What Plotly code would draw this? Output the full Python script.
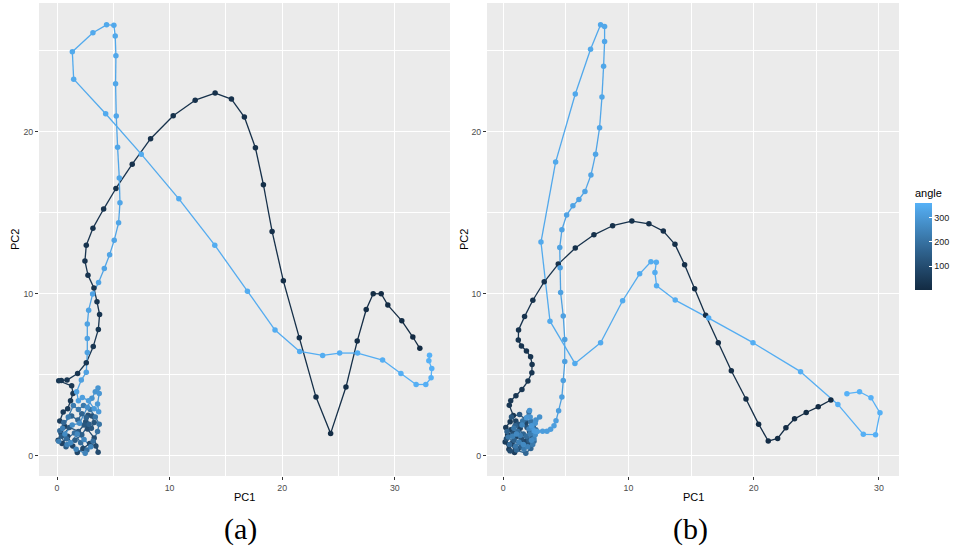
import plotly.graph_objects as go

# ---------------- Panel (a) data ----------------
a_pc1 = [
    # low-angle excursion
    32.22, 31.60, 30.62, 29.38, 28.79, 28.08, 27.46, 26.66, 25.66, 24.30,
    23.00, 21.52, 20.10, 19.10, 18.33, 17.62, 16.64, 15.49, 14.04, 12.27,
    10.32, 8.31, 6.68, 5.23, 4.14, 3.19, 2.60, 2.48, 2.75, 3.28,
    3.55, 3.78, 3.67, 3.22, 2.60, 1.83, 0.89, 0.38, 0.15, 1.30,
    1.42,
    # cluster near origin
    1.20, 0.95, 0.55, 0.25, 0.70, 0.35, 0.10, 0.45, 0.95, 1.40,
    1.80, 2.30, 2.90, 3.45, 3.65, 3.30, 2.70, 2.55, 2.75, 3.10,
    3.30, 3.05, 2.40, 1.90, 1.10, 0.40, 0.80, 1.60, 2.20, 2.85,
    2.60, 2.20, 1.85, 1.30, 0.60, 0.25, 0.85, 1.55, 2.10, 2.65,
    3.20, 3.60, 3.75, 3.40, 2.95, 2.35, 1.90, 1.45, 1.00, 0.50,
    0.15, 0.90, 1.70, 2.50, 3.00, 2.40, 1.80, 1.20, 0.70, 1.35,
    2.00, 2.70, 3.10, 3.40, 3.64, 3.75, 3.60, 3.70, 3.30, 2.80,
    2.25, 1.90,
    # high-angle excursion
    1.74, 2.16, 2.60, 2.69, 2.69, 2.69, 2.81, 3.16, 3.69, 4.20,
    4.67, 5.08, 5.47, 5.59, 5.53, 5.38, 5.26, 5.20, 5.23, 5.17,
    5.05, 4.40, 3.19, 1.36, 1.48, 4.32, 7.48, 10.82, 14.01, 16.91,
    19.36, 21.55, 23.59, 25.10, 26.69, 28.91, 30.54, 31.89, 32.75, 33.22,
    33.28, 33.02, 33.08,
]
a_pc2 = [
    6.63, 7.33, 8.33, 9.30, 10.00, 10.00, 9.03, 7.08, 4.24, 1.38,
    3.62, 7.28, 10.80, 13.85, 16.73, 19.01, 20.91, 22.02, 22.39, 21.95,
    20.99, 19.57, 18.00, 16.50, 15.23, 14.05, 13.00, 12.02, 11.15, 10.35,
    9.51, 8.72, 7.80, 6.75, 5.74, 5.08, 4.67, 4.65, 4.63, 4.32,
    3.85,
    3.40, 2.90, 2.70, 2.15, 1.80, 1.40, 0.95, 0.75, 1.20, 0.60,
    0.20, 0.45, 0.75, 0.60, 0.22, 1.10, 1.65, 2.10, 2.50, 2.45,
    2.05, 1.70, 1.90, 1.50, 1.75, 1.20, 0.55, 0.95, 1.30, 1.95,
    2.35, 2.60, 2.20, 2.45, 2.05, 1.55, 1.05, 1.40, 0.80, 0.35,
    0.90, 1.50, 1.95, 2.40, 2.85, 3.10, 2.85, 3.10, 2.40, 1.70,
    0.90, 0.70, 0.40, 0.15, 0.55, 1.00, 1.35, 0.80, 1.35, 1.90,
    2.00, 3.00, 3.55, 3.95, 4.18, 3.85, 3.20, 2.72, 2.90, 3.40,
    3.60, 3.40,
    3.95, 4.67, 5.16, 6.38, 7.24, 8.13, 8.99, 9.98, 10.70, 11.56,
    12.41, 13.31, 14.38, 15.62, 17.14, 19.05, 20.97, 22.96, 24.69, 25.91,
    26.58, 26.60, 26.11, 24.94, 23.25, 21.11, 18.62, 15.86, 13.00, 10.16,
    7.76, 6.44, 6.19, 6.34, 6.34, 5.91, 5.08, 4.40, 4.40, 4.81,
    5.39, 5.86, 6.21,
]
a_angle = [
    1, 2, 3, 4, 5, 6, 7, 8, 9, 10,
    11, 12, 13, 14, 15, 16, 17, 18, 19, 20,
    21, 22, 23, 24, 25, 26, 27, 28, 29, 30,
    31, 32, 33, 34, 35, 36, 37, 38, 39, 40,
    41,
    42, 46, 50, 54, 58, 62, 66, 70, 73, 77,
    81, 85, 89, 93, 97, 101, 104, 108, 112, 116,
    120, 124, 128, 132, 135, 139, 143, 147, 151, 155,
    159, 163, 166, 170, 174, 178, 182, 186, 190, 194,
    197, 201, 205, 209, 213, 217, 221, 225, 228, 232,
    236, 240, 244, 248, 252, 256, 259, 263, 267, 271,
    275, 279, 283, 287, 290, 294, 298, 302, 306, 310,
    314, 317,
    318, 319, 320, 321, 322, 323, 324, 325, 326, 327,
    328, 329, 330, 331, 332, 333, 334, 335, 336, 337,
    338, 339, 340, 341, 342, 343, 344, 345, 346, 347,
    348, 349, 350, 351, 352, 353, 354, 355, 356, 357,
    358, 359, 360,
]

# ---------------- Panel (b) data ----------------
b_pc1 = [
    26.16, 25.15, 24.19, 23.26, 22.57, 21.91, 21.16, 20.39, 19.38, 18.21,
    17.17, 16.16, 15.28, 14.48, 13.71, 12.78, 11.63, 10.27, 8.73, 7.24,
    5.75, 4.39, 3.27, 2.36, 1.70, 1.22, 1.20, 1.45, 1.85, 2.18,
    2.30, 2.28, 1.97, 1.49, 1.01, 0.59, 0.48, 0.80,
    0.55, 0.20, 0.35, 0.15, 0.45, 0.90, 0.70, 1.10, 0.60, 1.00,
    1.35, 1.80, 2.10, 1.70, 1.20, 0.55, 0.25, 0.80, 1.45, 2.00,
    2.30, 1.90, 1.20, 0.65, 1.30, 1.75, 2.40, 2.50, 2.05, 1.45,
    0.85, 0.30, 0.95, 1.60, 2.20, 1.80, 1.05, 0.50, 1.15, 1.85,
    2.45, 2.60, 2.20, 2.05, 1.55, 0.85, 0.40, 1.00, 1.65, 2.35,
    2.15, 1.35, 0.75, 1.25, 1.95, 2.45, 2.05, 1.50, 1.05, 1.60,
    2.25, 2.55, 2.30, 2.60, 2.90, 2.55, 2.15, 2.10, 1.85, 2.25,
    2.45, 2.60,
    2.72, 3.14, 3.49, 3.78, 4.05, 4.21, 4.42, 4.68, 4.79, 4.91,
    4.91, 4.79, 4.58, 4.54, 4.51, 4.68, 5.06, 5.56, 6.04, 6.52,
    7.00, 7.37, 7.69, 7.88, 8.01, 8.09, 8.09, 7.77, 6.97, 5.75,
    4.18, 3.01, 3.73, 5.72, 7.77, 9.53, 10.89, 11.79, 12.22, 12.11,
    12.24, 13.73, 16.40, 19.94, 23.74, 26.72, 28.75, 29.73, 30.08, 29.36,
    28.45, 27.44,
]
b_pc2 = [
    3.44, 3.02, 2.67, 2.28, 1.73, 1.07, 0.91, 1.95, 3.50, 5.25,
    6.98, 8.68, 10.31, 11.79, 13.05, 13.87, 14.32, 14.49, 14.20, 13.64,
    12.82, 11.83, 10.74, 9.60, 8.59, 7.77, 7.15, 6.77, 6.47, 6.11,
    5.64, 5.12, 4.61, 4.09, 3.70, 3.40, 3.11, 2.49,
    2.10, 1.75, 1.30, 0.85, 0.40, 0.20, 0.75, 1.20, 1.60, 2.15,
    1.70, 2.00, 1.50, 0.90, 0.45, 0.30, 1.05, 1.40, 1.05, 0.70,
    1.20, 1.75, 1.95, 2.40, 2.55, 2.25, 1.85, 1.40, 0.95, 0.55,
    0.95, 1.50, 1.85, 1.35, 0.45, 0.15, 0.35, 0.70, 1.50, 1.20,
    0.90, 1.60, 2.10, 2.70, 2.15, 1.70, 1.15, 0.60, 0.40, 0.70,
    1.35, 1.25, 1.20, 0.85, 0.55, 1.05, 1.65, 1.90, 1.35, 0.70,
    0.95, 1.30, 1.75, 2.20, 2.40, 2.00, 2.40, 2.80, 2.35, 1.85,
    1.55, 1.50,
    1.50, 1.52, 1.52, 1.63, 1.85, 2.16, 2.78, 3.62, 4.65, 5.82,
    7.18, 8.62, 10.08, 11.61, 12.86, 13.95, 14.86, 15.43, 15.82, 16.32,
    17.33, 18.62, 20.25, 22.14, 24.05, 25.58, 26.50, 26.60, 25.10, 22.33,
    18.13, 13.19, 8.31, 5.70, 6.98, 9.57, 11.23, 11.98, 11.95, 11.32,
    10.49, 9.61, 8.50, 6.98, 5.19, 3.17, 1.32, 1.30, 2.65, 3.58,
    3.95, 3.83,
]
b_angle = [
    1, 2, 3, 4, 5, 6, 7, 8, 9, 10,
    11, 12, 13, 14, 15, 16, 17, 18, 19, 20,
    21, 22, 23, 24, 25, 26, 27, 28, 29, 30,
    31, 32, 33, 34, 35, 36, 37, 38,
    39, 43, 47, 50, 54, 58, 62, 66, 69, 73,
    77, 81, 84, 88, 92, 96, 100, 103, 107, 111,
    115, 118, 122, 126, 130, 134, 137, 141, 145, 149,
    153, 156, 160, 164, 168, 171, 175, 179, 183, 187,
    190, 194, 198, 202, 205, 209, 213, 217, 221, 224,
    228, 232, 236, 239, 243, 247, 251, 255, 258, 262,
    266, 270, 274, 277, 281, 285, 289, 292, 296, 300,
    304, 308,
    309, 310, 311, 312, 313, 314, 315, 316, 317, 318,
    319, 320, 321, 322, 323, 324, 325, 326, 327, 328,
    329, 330, 331, 332, 333, 334, 335, 336, 337, 338,
    339, 340, 341, 342, 343, 344, 345, 346, 347, 348,
    349, 350, 351, 352, 353, 354, 355, 356, 357, 358,
    359, 360,
]

legend_ticks = [100, 200, 300]

# ---------------- colour helpers (ggplot-like Lab gradient) ----------------
LOW = "#132B43"
HIGH = "#56B1F7"
AMIN, AMAX = 1, 360


def _hex2rgb(h):
    h = h.lstrip("#")
    return [int(h[i:i + 2], 16) for i in (0, 2, 4)]


def _to_lab(hexcol):
    def lin(c):
        c = c / 255.0
        return c / 12.92 if c <= 0.04045 else ((c + 0.055) / 1.055) ** 2.4
    r, g, b = [lin(c) for c in _hex2rgb(hexcol)]
    X = (0.4124 * r + 0.3576 * g + 0.1805 * b) / 0.95047
    Y = (0.2126 * r + 0.7152 * g + 0.0722 * b)
    Z = (0.0193 * r + 0.1192 * g + 0.9505 * b) / 1.08883

    def f(t):
        return t ** (1 / 3) if t > 0.008856 else 7.787 * t + 16 / 116
    fx, fy, fz = f(X), f(Y), f(Z)
    return (116 * fy - 16, 500 * (fx - fy), 200 * (fy - fz))


def _from_lab(L, a, b):
    fy = (L + 16) / 116
    fx = fy + a / 500
    fz = fy - b / 200

    def finv(t):
        return t ** 3 if t ** 3 > 0.008856 else (t - 16 / 116) / 7.787
    X, Y, Z = finv(fx) * 0.95047, finv(fy), finv(fz) * 1.08883
    r = 3.2406 * X - 1.5372 * Y - 0.4986 * Z
    g = -0.9689 * X + 1.8758 * Y + 0.0415 * Z
    bb = 0.0557 * X - 0.2040 * Y + 1.0570 * Z

    def gam(c):
        c = max(0.0, min(1.0, c))
        v = 12.92 * c if c <= 0.0031308 else 1.055 * c ** (1 / 2.4) - 0.055
        return int(round(max(0, min(1, v)) * 255))
    return "#%02X%02X%02X" % (gam(r), gam(g), gam(bb))


LAB_LO, LAB_HI = _to_lab(LOW), _to_lab(HIGH)


def colour_at(t):
    t = max(0.0, min(1.0, t))
    return _from_lab(*[lo + (hi - lo) * t for lo, hi in zip(LAB_LO, LAB_HI)])


colorscale = [[i / 20, colour_at(i / 20)] for i in range(21)]

# ---------------- figure ----------------
W, H = 955, 548
fig = go.Figure()


def add_panel(xs, ys, ang, xa, ya, showscale):
    groups = {}
    pts = list(zip(xs, ys, ang))
    for (x0, y0, a0), (x1, y1, _a1) in zip(pts[:-1], pts[1:]):
        t = round(((a0 - AMIN) / (AMAX - AMIN)) * 80) / 80
        groups.setdefault(t, ([], []))
        groups[t][0].extend([x0, x1, None])
        groups[t][1].extend([y0, y1, None])
    for t in sorted(groups):
        gx, gy = groups[t]
        fig.add_trace(go.Scatter(
            x=gx, y=gy, mode="lines", xaxis=xa, yaxis=ya,
            line=dict(color=colour_at(t), width=1.3),
            hoverinfo="skip", showlegend=False))
    marker = dict(
        size=5.5, color=[p[2] for p in pts], colorscale=colorscale,
        cmin=AMIN, cmax=AMAX, showscale=showscale, line=dict(width=0))
    if showscale:
        marker["colorbar"] = dict(
            title=dict(text="angle", side="top",
                       font=dict(size=11, color="#000000", family="Liberation Sans")),
            thickness=17, thicknessmode="pixels",
            len=104, lenmode="pixels",
            x=915 / W, xanchor="left", xpad=0,
            y=1 - 290 / H, yanchor="bottom", ypad=0,
            outlinewidth=0, tickvals=legend_ticks,
            ticks="inside", ticklen=3, tickcolor="white", tickwidth=1,
            tickfont=dict(size=9, color="#1A1A1A", family="Liberation Sans"))
    fig.add_trace(go.Scatter(
        x=[p[0] for p in pts], y=[p[1] for p in pts], mode="markers",
        xaxis=xa, yaxis=ya, marker=marker, hoverinfo="skip", showlegend=False))


add_panel(a_pc1, a_pc2, a_angle, "x", "y", False)
add_panel(b_pc1, b_pc2, b_angle, "x2", "y2", True)

axis_common = dict(
    showgrid=True, gridcolor="white", gridwidth=1.1,
    minor=dict(dtick=5, tick0=0, showgrid=True, gridcolor="white", gridwidth=0.55),
    zeroline=False, showline=False, ticks="outside", ticklen=3,
    tickcolor="#333333", tickwidth=1.1, dtick=10, tick0=0,
    tickfont=dict(size=8.8, color="#4D4D4D", family="Liberation Sans"),
)
ydom = [1 - 476 / H, 1 - 3 / H]
fig.update_layout(
    width=W, height=H, margin=dict(l=0, r=0, t=0, b=0),
    paper_bgcolor="white", plot_bgcolor="#EBEBEB",
    xaxis=dict(domain=[39 / W, 450 / W], range=[-1.6, 34.9], anchor="y", **axis_common),
    yaxis=dict(domain=ydom, range=[-1.25, 27.95], anchor="x", **axis_common),
    xaxis2=dict(domain=[487 / W, 899 / W], range=[-1.3, 31.6], anchor="y2", **axis_common),
    yaxis2=dict(domain=ydom, range=[-1.25, 27.95], anchor="x2", **axis_common),
    font=dict(family="Liberation Sans"),
)

lab_font = dict(size=11, color="#000000", family="Liberation Sans")
ann = [
    dict(text="PC1", x=(39 + 450) / 2 / W, y=1 - 497 / H, font=lab_font),
    dict(text="PC1", x=(487 + 899) / 2 / W, y=1 - 497 / H, font=lab_font),
    dict(text="PC2", x=15 / W, y=1 - 240 / H, textangle=-90, font=lab_font),
    dict(text="PC2", x=464 / W, y=1 - 240 / H, textangle=-90, font=lab_font),
    dict(text="(a)", x=240 / W, y=1 - 529 / H,
         font=dict(size=30, color="#000000", family="Liberation Serif")),
    dict(text="(b)", x=690 / W, y=1 - 529 / H,
         font=dict(size=30, color="#000000", family="Liberation Serif")),
]
for a in ann:
    a.update(xref="paper", yref="paper", showarrow=False, xanchor="center", yanchor="middle")
fig.update_layout(annotations=ann)

fig.write_html("out.html")
